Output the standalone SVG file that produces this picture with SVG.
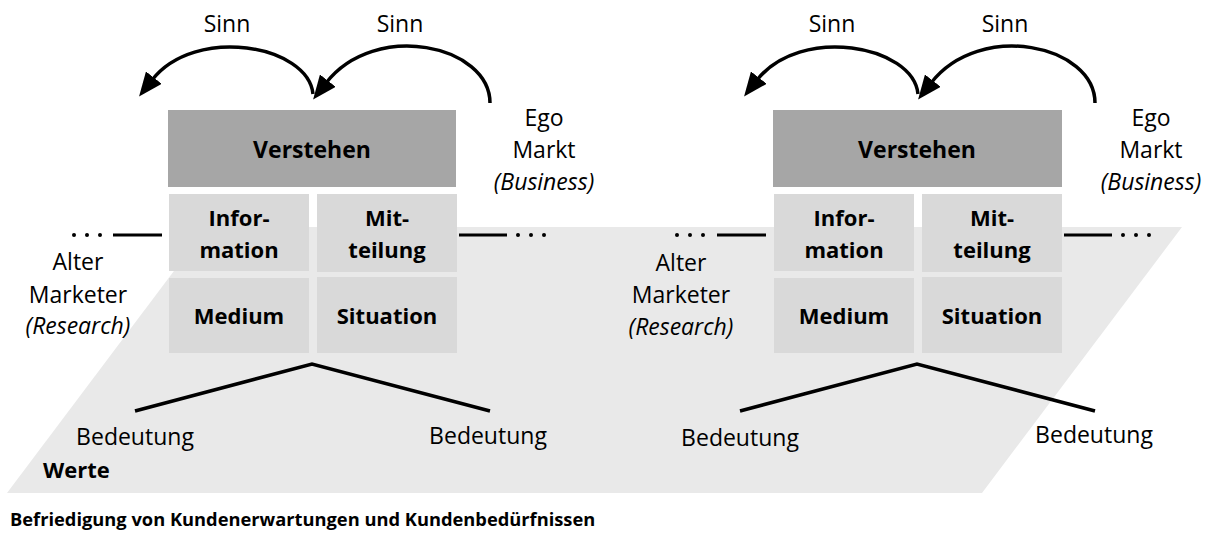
<svg xmlns="http://www.w3.org/2000/svg" width="1216" height="533" viewBox="0 0 1216 533">
<style>
.t{font-family:"Open Sans","Liberation Sans",sans-serif;font-size:23px;fill:#000;text-anchor:middle}
.b{font-family:"Open Sans","Liberation Sans",sans-serif;font-size:22px;font-weight:bold;fill:#000;text-anchor:middle}
.v{font-size:23px}
.i{font-style:italic}
.dk{fill:#a6a6a6}
.lt{fill:#d9d9d9}
.ln{fill:none;stroke:#000;stroke-width:3.5}
.dl{stroke:#000;stroke-width:3}
.dot{fill:#000}
</style>
<defs>
<marker id="ah" viewBox="0 0 24 20" refX="3" refY="10" markerWidth="24" markerHeight="20" markerUnits="userSpaceOnUse" orient="auto">
<path d="M0,0 L24,10 L0,20 z" fill="#000"/>
</marker>
</defs>
<g id="plane">
<polygon points="207,227 1182,227 982,493 7,493" fill="#e9e9e9"/>
<text class="b" x="43" y="478" style="text-anchor:start">Werte</text>
</g>
<g id="caption">
<text class="b" x="10" y="526" style="text-anchor:start;font-size:18.3px">Befriedigung von Kundenerwartungen und Kundenbedürfnissen</text>
</g>

<g id="left-block">
<g id="l-verstehen"><rect class="dk" x="168" y="110" width="288" height="77"/><text class="b v" x="312" y="158">Verstehen</text></g>
<g id="l-information"><rect class="lt" x="169" y="194" width="140" height="77"/><text class="b" x="239" y="226">Infor-</text><text class="b" x="239" y="258">mation</text></g>
<g id="l-mitteilung"><rect class="lt" x="317" y="194" width="140" height="78"/><text class="b" x="387" y="226">Mit-</text><text class="b" x="387" y="258">teilung</text></g>
<g id="l-medium"><rect class="lt" x="169" y="278" width="140" height="75"/><text class="b" x="239" y="324">Medium</text></g>
<g id="l-situation"><rect class="lt" x="317" y="277" width="140" height="76"/><text class="b" x="387" y="324">Situation</text></g>
<g id="l-alter"><text class="t" x="78" y="270">Alter</text><text class="t" x="78" y="303">Marketer</text><text class="t i" x="78" y="334">(Research)</text></g>
<g id="l-ego"><text class="t" x="544" y="126">Ego</text><text class="t" x="544" y="158">Markt</text><text class="t i" x="544" y="190">(Business)</text></g>
<g id="l-sinn"><text class="t" x="227" y="32">Sinn</text><text class="t" x="400" y="32">Sinn</text></g>
<g id="l-bedeutung"><text class="t" x="135" y="445">Bedeutung</text><text class="t" x="488" y="444">Bedeutung</text></g>
</g>

<g id="right-block">
<g id="r-verstehen"><rect class="dk" x="773" y="110" width="289" height="77"/><text class="b v" x="917" y="158">Verstehen</text></g>
<g id="r-information"><rect class="lt" x="774" y="194" width="140" height="77"/><text class="b" x="844" y="226">Infor-</text><text class="b" x="844" y="258">mation</text></g>
<g id="r-mitteilung"><rect class="lt" x="922" y="194" width="140" height="78"/><text class="b" x="992" y="226">Mit-</text><text class="b" x="992" y="258">teilung</text></g>
<g id="r-medium"><rect class="lt" x="774" y="278" width="140" height="75"/><text class="b" x="844" y="324">Medium</text></g>
<g id="r-situation"><rect class="lt" x="922" y="277" width="140" height="76"/><text class="b" x="992" y="324">Situation</text></g>
<g id="r-alter"><text class="t" x="681" y="271">Alter</text><text class="t" x="681" y="303">Marketer</text><text class="t i" x="681" y="335">(Research)</text></g>
<g id="r-ego"><text class="t" x="1151" y="126">Ego</text><text class="t" x="1151" y="158">Markt</text><text class="t i" x="1151" y="190">(Business)</text></g>
<g id="r-sinn"><text class="t" x="832" y="32">Sinn</text><text class="t" x="1005" y="32">Sinn</text></g>
<g id="r-bedeutung"><text class="t" x="740" y="446">Bedeutung</text><text class="t" x="1094" y="443">Bedeutung</text></g>
</g>

<g id="connectors">
<path class="ln" d="M313,94 C308,45 195,25 152,80" marker-end="url(#ah)"/>
<path class="ln" d="M490,103 C490,45 375,20 326,83" marker-end="url(#ah)"/>
<path class="ln" d="M918,94 C913,45 800,25 757,80" marker-end="url(#ah)"/>
<path class="ln" d="M1095,103 C1095,45 980,20 931,83" marker-end="url(#ah)"/>
<path class="ln" d="M135,411 L312,364 L490,411"/>
<path class="ln" d="M740,411 L917,364 L1095,411"/>
<line class="dl" x1="113" y1="235" x2="162" y2="235"/>
<line class="dl" x1="459" y1="235" x2="507" y2="235"/>
<line class="dl" x1="717" y1="235" x2="766" y2="235"/>
<line class="dl" x1="1064" y1="235" x2="1112" y2="235"/>
<g class="dot">
<circle cx="74" cy="235" r="2"/><circle cx="87" cy="235" r="2"/><circle cx="100" cy="235" r="2"/>
<circle cx="518" cy="235" r="2"/><circle cx="531" cy="235" r="2"/><circle cx="544" cy="235" r="2"/>
<circle cx="677" cy="235" r="2"/><circle cx="690" cy="235" r="2"/><circle cx="703" cy="235" r="2"/>
<circle cx="1123" cy="235" r="2"/><circle cx="1136" cy="235" r="2"/><circle cx="1149" cy="235" r="2"/>
</g>
</g>
</svg>
